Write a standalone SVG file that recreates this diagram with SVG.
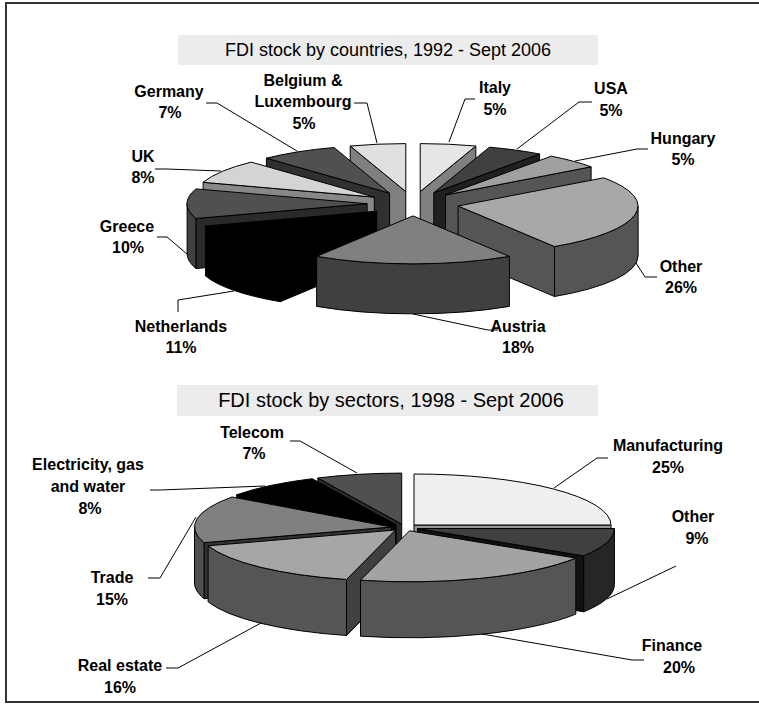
<svg xmlns="http://www.w3.org/2000/svg" width="759" height="705" viewBox="0 0 759 705">
<style>
.f{stroke:#000;stroke-width:1;stroke-linejoin:round}
.t{font-family:"Liberation Sans",Arial,sans-serif;font-size:18px;fill:#000;text-anchor:middle}
.l{font-family:"Liberation Sans",Arial,sans-serif;font-size:16px;font-weight:bold;fill:#000;text-anchor:middle}
.ld{fill:none;stroke:#000;stroke-width:1}
</style>
<rect x="0" y="0" width="759" height="705" fill="#fff"/>
<rect x="6" y="3" width="762" height="699" fill="none" stroke="#333" stroke-width="2"/>
<g id="title1"><rect x="178" y="35" width="420" height="30" fill="#ececec"/><text class="t" x="388" y="56">FDI stock by countries, 1992 - Sept 2006</text></g>
<g id="title2"><rect x="177" y="385" width="421" height="31" fill="#ececec"/><text class="t" x="391" y="407" style="font-size:20px">FDI stock by sectors, 1998 - Sept 2006</text></g>

<g id="pie1">
<g id="italy">
<path class="f" fill="#808080" d="M420.2,191.6 L475.8,146 L475.8,196 L420.2,241.6 Z"/>
<path class="f" fill="#e6e6e6" d="M420.2,191.6 L420.2,143.6 A180,48 0 0 1 475.8,146 Z"/>
</g>
<g id="belgium">
<path class="f" fill="#808080" d="M405.8,191.6 L350.2,146 L350.2,196 L405.8,241.6 Z"/>
<path class="f" fill="#e0e0e0" d="M405.8,191.6 L350.2,146 A180,48 0 0 1 405.8,143.6 Z"/>
</g>
<g id="usa">
<path class="f" fill="#202020" d="M433.8,192.8 L539.6,154 L539.6,204 L433.8,242.8 Z"/>
<path class="f" fill="#404040" d="M433.8,192.8 L489.4,147.2 A180,48 0 0 1 539.6,154 Z"/>
</g>
<g id="germany">
<path class="f" fill="#303030" d="M389.6,193.2 L266.4,158.2 L266.4,208.2 L389.6,243.2 Z"/>
<path class="f" fill="#505050" d="M389.6,193.2 L266.4,158.2 A180,48 0 0 1 334,147.5 Z"/>
</g>
<g id="hungary">
<path class="f" fill="#555" d="M445.5,195 L591.1,166.8 L591.1,216.8 L445.5,245 Z"/>
<path class="f" fill="#a0a0a0" d="M445.5,195 L551.3,156.2 A180,48 0 0 1 591.1,166.8 Z"/>
</g>
<g id="uk">
<path class="f" fill="#888" d="M374.3,197.1 L203.1,182.3 L203.1,232.3 L374.3,247.1 Z"/>
<path class="f" fill="#d4d4d4" d="M374.3,197.1 L203.1,182.3 A180,48 0 0 1 251.1,162.1 Z"/>
</g>
<g id="greece">
<path class="f" fill="#2a2a2a" d="M367.1,203.7 L195.9,218.5 L195.9,268.5 L367.1,253.7 Z"/>
<path class="f" fill="#404040" d="M195.9,218.5 A180,48 0 0 1 187.1,203.7 L187.1,253.7 A180,48 0 0 0 195.9,268.5 Z"/>
<path class="f" fill="#505050" d="M367.1,203.7 L195.9,218.5 A180,48 0 0 1 195.9,188.9 Z"/>
</g>
<g id="other1">
<path class="f" fill="#555" d="M458.1,206 L554.5,246.5 L554.5,296.5 L458.1,256 Z"/>
<path class="f" fill="#555" d="M638.1,206 A180,48 0 0 1 554.5,246.5 L554.5,296.5 A180,48 0 0 0 638.1,256 Z"/>
<path class="f" fill="#a8a8a8" d="M458.1,206 L603.7,177.8 A180,48 0 0 1 554.5,246.5 Z"/>
</g>
<g id="netherlands">
<path class="f" fill="#000" d="M376.7,211.2 L280.3,251.7 L280.3,301.7 L376.7,261.2 Z"/>
<path class="f" fill="#000" d="M280.3,251.7 A180,48 0 0 1 205.5,226 L205.5,276 A180,48 0 0 0 280.3,301.7 Z"/>
<path class="f" fill="#000" d="M376.7,211.2 L280.3,251.7 A180,48 0 0 1 205.5,226 Z"/>
</g>
<g id="austria">
<path class="f" fill="#404040" d="M509.4,256.4 A180,48 0 0 1 316.6,256.4 L316.6,306.4 A180,48 0 0 0 509.4,306.4 Z"/>
<path class="f" fill="#808080" d="M413,215.9 L509.4,256.4 A180,48 0 0 1 316.6,256.4 Z"/>
</g>
</g>

<g id="pie2">
<g id="telecom">
<path class="f" fill="#2a2a2a" d="M401.7,524.1 L317.8,478 L317.8,534 L401.7,580.1 Z"/>
<path class="f" fill="#505050" d="M401.7,524.1 L317.8,478 A197,51 0 0 1 401.7,473.1 Z"/>
</g>
<g id="manufacturing">
<path class="f" fill="#999" d="M414,525 L611,525 L611,581 L414,581 Z"/>
<path class="f" fill="#efefef" d="M414,525 L414,474 A197,51 0 0 1 611,525 Z"/>
</g>
<g id="electricity">
<path class="f" fill="#000" d="M396.1,524.8 L236.7,494.8 L236.7,550.8 L396.1,580.8 Z"/>
<path class="f" fill="#000" d="M396.1,524.8 L236.7,494.8 A197,51 0 0 1 312.2,478.7 Z"/>
</g>
<g id="trade">
<path class="f" fill="#333" d="M391.5,527 L204.1,542.7 L204.1,598.7 L391.5,583 Z"/>
<path class="f" fill="#505050" d="M204.1,542.7 A197,51 0 0 1 194.5,527 L194.5,583 A197,51 0 0 0 204.1,598.7 Z"/>
<path class="f" fill="#808080" d="M391.5,527 L204.1,542.7 A197,51 0 0 1 232.1,497 Z"/>
</g>
<g id="other2">
<path class="f" fill="#111" d="M417.4,528.5 L583.7,555.8 L583.7,611.8 L417.4,584.5 Z"/>
<path class="f" fill="#262626" d="M614.4,528.5 A197,51 0 0 1 583.7,555.8 L583.7,611.8 A197,51 0 0 0 614.4,584.5 Z"/>
<path class="f" fill="#404040" d="M417.4,528.5 L614.4,528.5 A197,51 0 0 1 583.7,555.8 Z"/>
</g>
<g id="realestate">
<path class="f" fill="#404040" d="M395.5,530 L346.5,579.5 L346.5,635.5 L395.5,586 Z"/>
<path class="f" fill="#555" d="M346.5,579.5 A197,51 0 0 1 208.1,545.8 L208.1,601.8 A197,51 0 0 0 346.5,635.5 Z"/>
<path class="f" fill="#a6a6a6" d="M395.5,530 L346.5,579.5 A197,51 0 0 1 208.1,545.8 Z"/>
</g>
<g id="finance">
<path class="f" fill="#555" d="M575.8,558.1 A197,51 0 0 1 360.5,580.2 L360.5,636.2 A197,51 0 0 0 575.8,614.1 Z"/>
<path class="f" fill="#a3a3a3" d="M409.5,530.8 L575.8,558.1 A197,51 0 0 1 360.5,580.2 Z"/>
</g>
</g>

<g id="connectors">
<polyline class="ld" points="475,99 465,99 449,142"/>
<polyline class="ld" points="592,102 579,102 517,149"/>
<polyline class="ld" points="648,149 637,149 575,161"/>
<polyline class="ld" points="657,277 645,277 636,263"/>
<polyline class="ld" points="498,330 488,330 413,314"/>
<polyline class="ld" points="178,312 178,300 234,291"/>
<polyline class="ld" points="157,237 167,237 187,254"/>
<polyline class="ld" points="155,169 167,169 221,171"/>
<polyline class="ld" points="206,103 217,103 297,151"/>
<polyline class="ld" points="354,103 367,103 377,143"/>
<polyline class="ld" points="608,458 597,458 554,488"/>
<polyline class="ld" points="676,566 607,599"/>
<polyline class="ld" points="644,660 632,660 482,634"/>
<polyline class="ld" points="166,668 178,668 261,623"/>
<polyline class="ld" points="148,578 160,578 196,517"/>
<polyline class="ld" points="150,490 160,490 265,486"/>
<polyline class="ld" points="290,441 300,441 357,473"/>
</g>

<g id="labels">
<text class="l" x="495" y="93">Italy</text><text class="l" x="495" y="115">5%</text>
<text class="l" x="611" y="94">USA</text><text class="l" x="611" y="116">5%</text>
<text class="l" x="683" y="144">Hungary</text><text class="l" x="683" y="165">5%</text>
<text class="l" x="303" y="86">Belgium &amp;</text><text class="l" x="303" y="107">Luxembourg</text><text class="l" x="304" y="129">5%</text>
<text class="l" x="169" y="97">Germany</text><text class="l" x="170" y="118">7%</text>
<text class="l" x="143" y="162">UK</text><text class="l" x="143" y="183">8%</text>
<text class="l" x="127" y="232">Greece</text><text class="l" x="128" y="253">10%</text>
<text class="l" x="181" y="332">Netherlands</text><text class="l" x="181" y="353">11%</text>
<text class="l" x="518" y="332">Austria</text><text class="l" x="518" y="353">18%</text>
<text class="l" x="681" y="272">Other</text><text class="l" x="681" y="293">26%</text>
<text class="l" x="252" y="438">Telecom</text><text class="l" x="254" y="459">7%</text>
<text class="l" x="88" y="470">Electricity, gas</text><text class="l" x="88" y="492">and water</text><text class="l" x="90" y="514">8%</text>
<text class="l" x="668" y="451">Manufacturing</text><text class="l" x="668" y="473">25%</text>
<text class="l" x="693" y="522">Other</text><text class="l" x="697" y="544">9%</text>
<text class="l" x="112" y="583">Trade</text><text class="l" x="112" y="605">15%</text>
<text class="l" x="120" y="671">Real estate</text><text class="l" x="120" y="693">16%</text>
<text class="l" x="672" y="651">Finance</text><text class="l" x="679" y="673">20%</text>
</g>
</svg>
